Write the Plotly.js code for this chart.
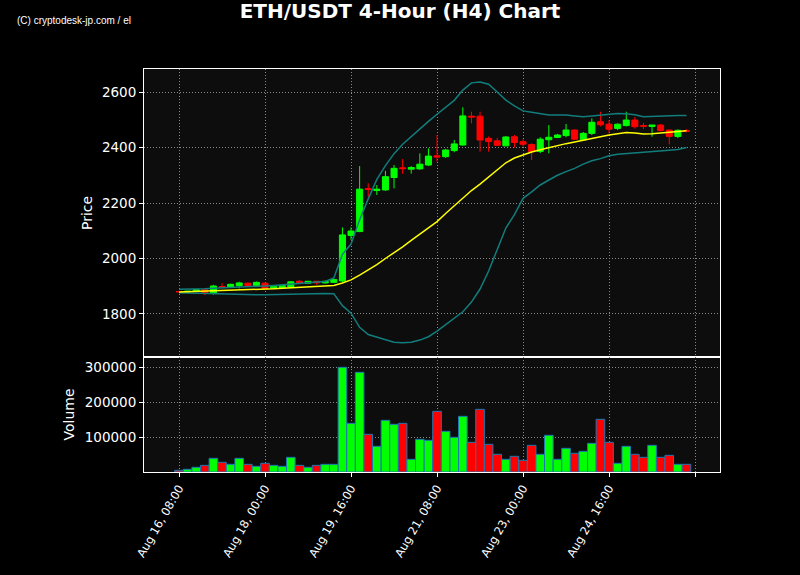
<!DOCTYPE html>
<html>
<head>
<meta charset="utf-8">
<script src="https://cdn.plot.ly/plotly-3.0.1.min.js"></script>
<style>html,body{margin:0;padding:0;background:#000;}#chart{width:800px;height:575px;}</style>
</head>
<body>
<div id="chart"></div>
<script>
const times = [
"2024-08-16 08:00","2024-08-16 12:00","2024-08-16 16:00","2024-08-16 20:00",
"2024-08-17 00:00","2024-08-17 04:00","2024-08-17 08:00","2024-08-17 12:00","2024-08-17 16:00","2024-08-17 20:00",
"2024-08-18 00:00","2024-08-18 04:00","2024-08-18 08:00","2024-08-18 12:00","2024-08-18 16:00","2024-08-18 20:00",
"2024-08-19 00:00","2024-08-19 04:00","2024-08-19 08:00","2024-08-19 12:00","2024-08-19 16:00","2024-08-19 20:00",
"2024-08-20 00:00","2024-08-20 04:00","2024-08-20 08:00","2024-08-20 12:00","2024-08-20 16:00","2024-08-20 20:00",
"2024-08-21 00:00","2024-08-21 04:00","2024-08-21 08:00","2024-08-21 12:00","2024-08-21 16:00","2024-08-21 20:00",
"2024-08-22 00:00","2024-08-22 04:00","2024-08-22 08:00","2024-08-22 12:00","2024-08-22 16:00","2024-08-22 20:00",
"2024-08-23 00:00","2024-08-23 04:00","2024-08-23 08:00","2024-08-23 12:00","2024-08-23 16:00","2024-08-23 20:00",
"2024-08-24 00:00","2024-08-24 04:00","2024-08-24 08:00","2024-08-24 12:00","2024-08-24 16:00","2024-08-24 20:00",
"2024-08-25 00:00","2024-08-25 04:00","2024-08-25 08:00","2024-08-25 12:00","2024-08-25 16:00","2024-08-25 20:00",
"2024-08-26 00:00","2024-08-26 04:00"];

const openP = [1881,1879,1882,1887,1874,1899,1897,1902,1911,1903,1911,1893,1894,1897,1918,1911,1918,1912,1914,1919,
2083,2097,2252,2245,2247,2292,2327,2322,2323,2337,2370,2367,2389,2409,2513,2513,2433,2424,2406,2439,
2421,2411,2386,2428,2436,2443,2463,2428,2451,2493,2484,2469,2479,2499,2479,2476,2481,2463,2440,2461];
const highP = [1882,1883,1889,1889,1905,1911,1909,1916,1913,1917,1913,1903,1905,1919,1922,1919,1919,1920,1926,2112,
2112,2333,2271,2265,2316,2337,2358,2333,2379,2397,2445,2395,2427,2545,2529,2529,2440,2435,2441,2445,
2430,2415,2437,2481,2449,2485,2465,2456,2505,2529,2499,2487,2529,2510,2489,2481,2484,2465,2465,2466];
const lowP = [1879,1878,1881,1868,1870,1896,1894,1892,1902,1898,1891,1891,1892,1895,1909,1909,1906,1910,1912,1915,
2067,2095,2221,2229,2244,2253,2305,2306,2320,2333,2349,2363,2383,2407,2487,2385,2385,2407,2405,2400,
2404,2355,2380,2379,2434,2437,2428,2424,2445,2476,2451,2463,2476,2468,2467,2439,2458,2411,2434,2455];
const closeP = [1880,1882,1888,1875,1901,1897,1907,1912,1903,1914,1892,1900,1903,1916,1912,1918,1912,1918,1924,2085,
2099,2250,2249,2250,2295,2325,2324,2328,2340,2369,2366,2391,2413,2514,2510,2427,2422,2408,2438,2418,
2412,2385,2430,2437,2445,2463,2430,2451,2491,2482,2466,2484,2499,2475,2477,2481,2461,2440,2462,2459];
const volume = [4800,7600,13400,19000,39000,27600,21900,39000,21900,16200,24800,19000,16200,41900,19000,13400,19000,21900,21900,299000,
139000,284800,107600,73300,147600,136200,139000,36200,93300,90500,173300,116200,99000,159000,84800,179000,79000,50500,36200,44800,
33300,76200,50500,104800,36200,67600,53300,59000,81900,150500,84800,24800,73300,50500,41900,76200,41900,47600,21900,21900];
const bbMid = [1879,1880,1881,1882,1883,1884,1884,1885,1886,1888,1890,1891,1893,1895,1897,1898,1900,1901,1903,1912,
1923,1940,1958,1978,2000,2020,2042,2065,2088,2112,2133,2162,2190,2218,2245,2268,2293,2318,2345,2362,
2374,2384,2392,2400,2407,2414,2420,2427,2433,2439,2445,2450,2454,2452,2449,2450,2453,2455,2458,2460];
const bbUpper = [1889,1889,1890,1891,1893,1894,1896,1897,1898,1899,1901,1903,1906,1908,1911,1913,1915,1917,1930,2015,
2052,2140,2215,2285,2335,2378,2412,2440,2466,2494,2520,2545,2570,2607,2633,2636,2628,2600,2571,2550,
2532,2527,2522,2517,2517,2517,2514,2511,2514,2517,2520,2523,2522,2518,2511,2512,2515,2515,2515,2515];
const bbLower = [1877,1876,1876,1875,1874,1872,1870,1869,1869,1869,1869,1870,1870,1871,1872,1873,1874,1874,1873,1830,
1803,1752,1726,1716,1708,1698,1696,1698,1706,1718,1738,1762,1785,1808,1843,1890,1955,2030,2110,2158,
2217,2240,2265,2283,2300,2313,2325,2340,2352,2360,2370,2376,2378,2380,2382,2385,2388,2390,2393,2400];

const tickVals = ["2024-08-16 08:00","2024-08-18 00:00","2024-08-19 16:00","2024-08-21 08:00","2024-08-23 00:00","2024-08-24 16:00","2024-08-26 08:00"];
const tickText = ["Aug 16, 08:00","Aug 18, 00:00","Aug 19, 16:00","Aug 21, 08:00","Aug 23, 00:00","Aug 24, 16:00",""];

const UP = "#00ff00", DOWN = "#ff0000";
const volColors = closeP.map((c, i) => c >= openP[i] ? UP : DOWN);

const traces = [
  {type:"scatter", mode:"lines", x:times, y:bbUpper, xaxis:"x", yaxis:"y",
   line:{color:"#127d7d", width:1.5}, hoverinfo:"skip"},
  {type:"scatter", mode:"lines", x:times, y:bbLower, xaxis:"x", yaxis:"y",
   line:{color:"#127d7d", width:1.5}, hoverinfo:"skip"},
  {type:"scatter", mode:"lines", x:times, y:bbMid, xaxis:"x", yaxis:"y",
   line:{color:"#ffff00", width:1.5}, hoverinfo:"skip"},
  {type:"candlestick", x:times, open:openP, high:highP, low:lowP, close:closeP,
   xaxis:"x", yaxis:"y", whiskerwidth:0,
   increasing:{line:{color:UP, width:1}, fillcolor:UP},
   decreasing:{line:{color:DOWN, width:1}, fillcolor:DOWN}},
  {type:"bar", x:times, y:volume, xaxis:"x2", yaxis:"y2", width:4*3600*1000,
   marker:{color:volColors, line:{color:"#1f77b4", width:1}}}
];

const xRange = ["2024-08-15 15:43","2024-08-26 19:36"];
const gridCol = "#8a8a8a";
const gridDash = "1px,2px";
const font = {family:"DejaVu Sans, sans-serif", color:"#ffffff", size:13.5};
const xfont = {family:"DejaVu Sans, sans-serif", color:"#ffffff", size:11.5};

const layout = {
  width:800, height:575,
  paper_bgcolor:"#000000", plot_bgcolor:"#0d0d0d",
  showlegend:false,
  margin:{l:144, r:80, t:69, b:103},
  font:font,
  boxgap:0.3, boxgroupgap:0,
  title:{text:"<b>ETH/USDT 4-Hour (H4) Chart</b>", font:{family:"DejaVu Sans, sans-serif", size:20, color:"#ffffff"},
         xref:"container", x:0.5, xanchor:"center", yref:"container", y:1-11/575, yanchor:"middle"},
  xaxis:{type:"date", domain:[0,1], anchor:"y", range:xRange, rangeslider:{visible:false},
         tickvals:tickVals, ticktext:tickText, showticklabels:false, ticks:"",
         showgrid:true, gridcolor:gridCol, griddash:gridDash, gridwidth:1,
         showline:true, linecolor:"#ffffff", linewidth:1, mirror:true, zeroline:false},
  yaxis:{domain:[115/403,1], anchor:"x", range:[1645,2683], tickvals:[1800,2000,2200,2400,2600], tickformat:"d",
         ticks:"outside", ticklen:4, tickcolor:"#ffffff", tickfont:font,
         showgrid:true, gridcolor:gridCol, griddash:gridDash, gridwidth:1,
         showline:true, linecolor:"#ffffff", linewidth:1, mirror:true, zeroline:false},
  xaxis2:{type:"date", domain:[0,1], anchor:"y2", matches:"x", range:xRange,
          tickvals:tickVals, ticktext:tickText, tickangle:-60, tickfont:xfont,
          ticks:"outside", ticklen:4, tickcolor:"#ffffff",
          showgrid:true, gridcolor:gridCol, griddash:gridDash, gridwidth:1,
          showline:true, linecolor:"#ffffff", linewidth:1, mirror:true, zeroline:false},
  yaxis2:{domain:[0,115/403], anchor:"x2", range:[0,328571], tickvals:[100000,200000,300000], tickformat:"d",
          ticks:"outside", ticklen:4, tickcolor:"#ffffff", tickfont:font,
          showgrid:true, gridcolor:gridCol, griddash:gridDash, gridwidth:1,
          showline:true, linecolor:"#ffffff", linewidth:1, mirror:true, zeroline:false},
  annotations:[
    {text:"(C) cryptodesk-jp.com / el", xref:"paper", yref:"paper", x:(15-144)/576, y:(472-21)/403,
     xanchor:"left", yanchor:"middle", showarrow:false,
     font:{family:"Liberation Sans Narrow, Liberation Sans, sans-serif", size:10, color:"#ffffff"}},
    {text:"Price", xref:"paper", yref:"paper", x:(87-144)/576, y:(472-213)/403, textangle:-90,
     xanchor:"center", yanchor:"middle", showarrow:false, font:{family:"DejaVu Sans, sans-serif", size:14, color:"#ffffff"}},
    {text:"Volume", xref:"paper", yref:"paper", x:(68-144)/576, y:(472-414.5)/403, textangle:-90,
     xanchor:"center", yanchor:"middle", showarrow:false, font:{family:"DejaVu Sans, sans-serif", size:14, color:"#ffffff"}}
  ]
};

Plotly.newPlot("chart", traces, layout, {staticPlot:true, displayModeBar:false});
</script>
</body>
</html>
